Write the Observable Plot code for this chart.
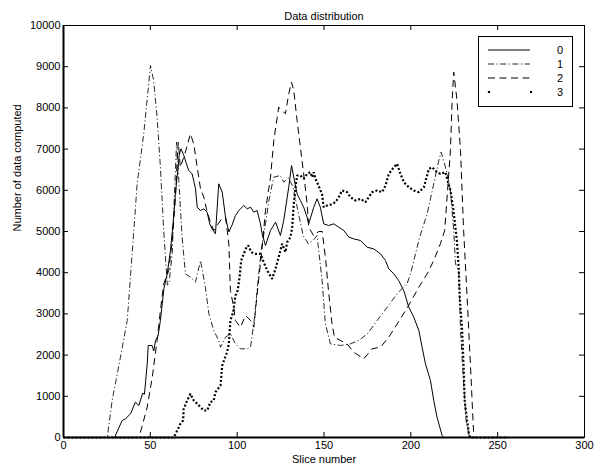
<!DOCTYPE html>
<html><head><meta charset="utf-8">
<script src="https://cdn.jsdelivr.net/npm/d3@7"></script>
<script src="https://cdn.jsdelivr.net/npm/@observablehq/plot@0.6"></script>
<style>body{margin:0;background:#fff}#chart{position:relative;width:600px;height:469px}</style>
</head><body><div id="chart"></div>
<script>
const xTicks = [0, 50, 100, 150, 200, 250, 300];
const yTicks = [0, 1000, 2000, 3000, 4000, 5000, 6000, 7000, 8000, 9000, 10000];
const seriesNames = ["0", "1", "2", "3"];
const titleText = "Data distribution";
const xLabel = "Slice number";
const yLabel = "Number of data computed";

// Series 0 (solid)
const s0x = [0,29.4,31.5,33.8,35.7,38.6,41.4,43.4,45.6,46.6,48.2,48.8,51,52,53,54.5,55.8,57.8,59.7,61.6,63.1,64.5,65.8,66.6,67.7,69.3,70.8,72.1,74.1,76,77,78.9,80.8,82.7,84.2,85.6,87.5,89.4,91.4,93.3,95.2,97,99,100.9,103.8,105.8,107.7,109.6,111.5,113.4,114.4,116.3,119.2,122.1,124.9,126.8,129.7,131.3,132.6,134.5,136.4,138.3,140.3,141.2,144.1,146,147.9,149.8,152.7,155.6,158.5,161.4,164.3,167.1,171,174.8,178.6,182.5,185.4,187.3,190.2,193,196,198.8,201.7,204.6,206.5,208.4,211.3,213.2,215.1,218,219,256];
const s0y = [0,0,200,413,453,575,857,777,1075,1050,1789,2233,2233,2100,2354,2475,2840,3609,3972,4538,5200,5950,6480,6850,7007,6844,6642,6480,6399,6035,5590,5509,5550,5469,5186,5064,4944,6157,5955,5347,4990,5150,5388,5509,5631,5550,5590,5469,5509,5186,4944,4660,5024,5226,4903,5267,6075,6601,6318,5915,5752,5590,5347,5186,5590,5793,5590,5186,5145,5186,5104,5024,4862,4822,4781,4619,4579,4458,4296,4094,3973,3810,3560,3163,2920,2597,2192,1789,1383,898,493,49,0,0];

// Series 1 (dash-dot)
const s1x = [0,25.2,28,32.8,36.7,40.5,42.4,46.2,50.1,51.9,53.9,55.8,57.7,58.7,59.8,60.7,62.6,63.5,65.1,66.4,68.3,70.2,73.1,76,78.9,81.7,83.7,86.5,89.4,90.4,93.3,96.1,99,101.9,105.7,107.7,110,112,114,116.3,118.5,121,124.9,126.8,129.5,132,135,138,141,144,146,148.9,150.8,153.7,159.5,165.2,170,175,180.6,186.4,192.1,198,200,205,209.4,213.2,216.1,217.4,218.9,220.9,222.8,224.7,225.7,227.6,228.6,230.4,231.8,233.3,234,256];
const s1y = [0,0,898,1950,2840,5024,6157,7371,9029,8665,7775,6560,5024,4376,3700,3730,4458,5509,7168,6237,4862,3972,3891,3770,4296,3648,3002,2597,2354,2192,2435,2516,2273,2152,2152,2192,2900,3800,4600,5186,5800,6318,6359,6196,6300,6100,5500,4900,4700,4800,4900,3810,2759,2273,2233,2273,2354,2516,2840,3163,3488,3750,4000,4850,5429,6157,6723,6925,6723,6399,6000,5024,4215,4053,2597,1303,413,97,0,0];

// Series 2 (dashed)
const s2x = [0,43.4,45.1,48.2,51.1,53.9,55.8,57.7,60.6,62.6,64.5,65.5,66.1,67.3,70,73.1,75,77,78.9,80.8,82.3,84.6,86.5,88.5,91,93.3,95.2,96.1,98,99,101.9,104.8,107.7,109.6,111.5,113.4,114.4,116.3,119.2,121.1,123.9,125.9,127.8,129.7,131.3,132.6,134.5,136.4,138.3,140.3,141.2,144,147,149,151,152.5,154.5,156,159.5,163.3,167.1,172.9,177.7,182.5,187.3,194,199.8,204.6,209.4,213.2,217,219.5,222.8,223.8,224.7,226.6,228.6,230.4,232.4,234.3,235.8,236.3,256];
const s2y = [0,0,250,735,1463,2354,3082,3730,4053,4781,5834,6803,7168,6560,6900,7371,7128,6560,6035,5834,5550,5226,5024,5150,5300,5347,4700,3568,3163,2840,2677,2961,2840,2677,3488,4215,4619,5509,6318,7209,8017,7936,7856,8341,8624,8422,7694,7047,6399,5671,5104,4900,5000,5000,4300,3600,2800,2435,2354,2273,2071,1910,2152,2192,2435,2880,3284,3648,3973,4296,4700,5024,6966,8179,8867,8179,6966,5024,3405,1789,413,0,0];

// Series 3 (dots)
const s3x = [0,63.5,65.5,67.3,68.9,69.2,71.2,73.1,75,77,78.9,80.8,82.7,84.6,86.5,87.5,90.4,91.4,92.7,94.2,95.2,96.1,97.7,99,100.3,101.5,102.3,103.8,105.4,106.4,108.1,110.6,113.4,115.3,117.3,120.1,122.1,123.9,125.9,127.8,128.8,130.7,131.7,132.6,133.6,134.5,136.4,138.3,140.3,142.2,143.2,144.1,145.1,147,148.9,149.8,151.8,153.7,156.6,158.5,160.4,163.3,165.2,168.1,171,173.9,175.8,177.7,180.6,183.5,185.4,187.3,190.2,192.1,194,196,198.8,201.7,204.6,207.5,210.4,212.3,215.1,217,219.9,220.9,222.8,224.3,225,226.6,227.6,228.2,229.5,230.4,231,232.4,233.3,234,256];
const s3y = [0,0,170,332,413,696,898,1060,898,818,737,655,655,857,898,1100,1262,1747,1910,2071,2273,2840,3041,3446,3568,3932,4296,4458,4619,4660,4498,4458,4458,4255,4053,3851,4094,4376,4700,4500,4740,4862,5104,5671,6075,6359,6359,6278,6400,6439,6318,6439,6278,6100,5900,5590,5631,5650,5712,5834,5995,5955,5834,5752,5793,5712,5834,5955,5995,5955,6116,6399,6560,6642,6399,6196,6075,5995,5955,6075,6520,6560,6439,6399,6439,6278,5995,5590,5347,4740,4094,3366,2638,1706,898,413,129,0,0];

const rows = (xs, ys) => xs.map((x, i) => ({x, y: ys[i]}));
const d0 = rows(s0x, s0y), d1 = rows(s1x, s1y), d2 = rows(s2x, s2y), d3s = rows(s3x, s3y);

const W = 600, H = 469, mL = 63, mR = 16, mT = 25, mB = 32;
const fw = W - mL - mR, fh = H - mT - mB;
const font = "'Liberation Sans', Arial, Helvetica, sans-serif";

const styles = [
  {stroke: "black", strokeWidth: 1, dash: null},
  {stroke: "#111", strokeWidth: 0.9, dash: "6,2.5,1.2,2.5"},
  {stroke: "black", strokeWidth: 1, dash: "7,4.5"},
  {stroke: "black", strokeWidth: 2.2, dash: "2,2"}
];
const datasets = [d0, d1, d2, d3s];

const plot = Plot.plot({
  width: W, height: H,
  marginLeft: mL, marginRight: mR, marginTop: mT, marginBottom: mB,
  style: {fontFamily: font, fontSize: "11px", background: "white", color: "black", overflow: "visible"},
  x: {domain: [0, 300]},
  y: {domain: [0, 10000]},
  marks: [
    ...datasets.map((d, i) => Plot.line(d, {x: "x", y: "y", stroke: styles[i].stroke, strokeWidth: styles[i].strokeWidth, strokeDasharray: styles[i].dash, strokeLinecap: "butt", strokeLinejoin: "miter"})),
    Plot.frame({stroke: "black", strokeWidth: 1}),
    Plot.ruleX([0], {stroke: "black", strokeWidth: 2}),
    Plot.ruleY([0], {stroke: "black", strokeWidth: 2}),
    Plot.tickX(xTicks, {x: d => d, insetTop: fh - 5, stroke: "black"}),
    Plot.tickX(xTicks, {x: d => d, insetBottom: fh - 5, stroke: "black"}),
    Plot.tickY(yTicks, {y: d => d, insetRight: fw - 5, stroke: "black"}),
    Plot.tickY(yTicks, {y: d => d, insetLeft: fw - 5, stroke: "black"}),
    Plot.axisX(xTicks, {anchor: "bottom", tickSize: 0, tickPadding: 4, label: null, fontSize: 11}),
    Plot.axisY(yTicks, {anchor: "left", tickSize: 0, tickPadding: 3, label: null, fontSize: 11, tickFormat: d => String(d)}),
    Plot.text([titleText], {text: d => d, frameAnchor: "top", dy: -13, fontSize: 11}),
    Plot.text([xLabel], {text: d => d, frameAnchor: "bottom", dy: 25, fontSize: 11}),
    Plot.text([yLabel], {text: d => d, frameAnchor: "left", dx: -46, rotate: -90, fontSize: 11})
  ]
});
document.getElementById("chart").appendChild(plot);

// Legend box (inside the plot, top-right)
const svg = d3.select(plot);
const lg = svg.append("g").attr("font-family", font).attr("font-size", 11);
const bx = 478.5, by = 36.5, bw = 94, bh = 70;
lg.append("rect").attr("x", bx).attr("y", by).attr("width", bw).attr("height", bh)
  .attr("fill", "white").attr("stroke", "black").attr("stroke-width", 1);
const rowY = [50, 64, 78, 92];
seriesNames.forEach((name, i) => {
  const y = rowY[i];
  if (i < 3) {
    lg.append("line").attr("x1", 488).attr("x2", 530).attr("y1", y).attr("y2", y)
      .attr("stroke", styles[i].stroke).attr("stroke-width", styles[i].strokeWidth)
      .attr("stroke-dasharray", styles[i].dash);
  } else {
    [489, 531].forEach(cx => lg.append("rect").attr("x", cx - 1.1).attr("y", y - 1.1)
      .attr("width", 2.2).attr("height", 2.2).attr("fill", "black"));
  }
  lg.append("text").attr("x", 560).attr("y", y).attr("text-anchor", "middle")
    .attr("dominant-baseline", "central").text(name);
});
</script>
</body></html>
